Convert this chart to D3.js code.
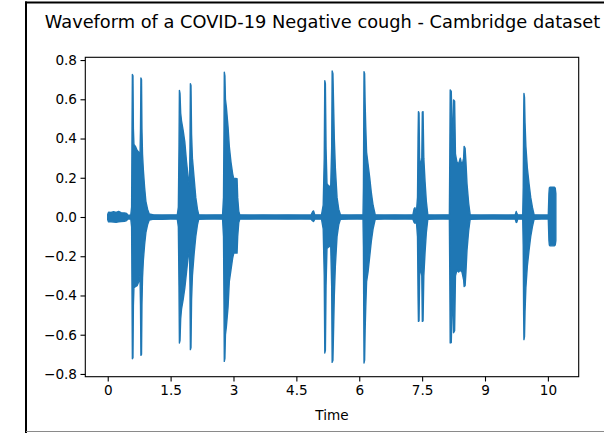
<!DOCTYPE html>
<html>
<head>
<meta charset="utf-8">
<script src="https://cdn.jsdelivr.net/npm/d3@7"></script>
<style>
  html, body { margin: 0; padding: 0; background: #fff; }
  svg { display: block; }
  text { font-family: "DejaVu Sans", sans-serif; fill: #000; }
</style>
</head>
<body>
<svg id="chart" width="604" height="433"></svg>
<script>
// Waveform envelope: rows of [time (s), upper amplitude, lower amplitude]
const lead = [
  [0.00, 0.014, -0.014], [0.02, 0.024, -0.025], [0.08, 0.023, -0.024],
  [0.14, 0.027, -0.026], [0.20, 0.023, -0.027], [0.26, 0.028, -0.024],
  [0.32, 0.022, -0.023], [0.40, 0.021, -0.022], [0.45, 0.018, -0.018],
  [0.48, 0.009, -0.009], [0.55, 0.010, -0.010]
];
const cough1 = [
  [0.570, 0.05, -0.05], [0.580, 0.45, -0.40], [0.588, 0.726, -0.722],
  [0.602, 0.72, -0.718], [0.612, 0.45, -0.45], [0.625, 0.37, -0.36],
  [0.66, 0.36, -0.355], [0.70, 0.34, -0.35], [0.74, 0.33, -0.33],
  [0.77, 0.31, -0.30], [0.782, 0.45, -0.45], [0.792, 0.709, -0.705],
  [0.806, 0.70, -0.70], [0.816, 0.45, -0.45], [0.83, 0.32, -0.31],
  [0.85, 0.24, -0.22], [0.88, 0.15, -0.14], [0.91, 0.08, -0.08],
  [0.95, 0.04, -0.04], [0.99, 0.015, -0.015]
];
const gap1 = [[1.10, 0.011, -0.011], [1.30, 0.010, -0.012], [1.50, 0.011, -0.010], [1.66, 0.011, -0.011]];
const cough2 = [
  [1.685, 0.05, -0.05], [1.700, 0.35, -0.35], [1.710, 0.645, -0.642],
  [1.724, 0.63, -0.63], [1.740, 0.53, -0.52], [1.760, 0.49, -0.47],
  [1.800, 0.44, -0.42], [1.840, 0.38, -0.36], [1.880, 0.28, -0.28],
  [1.920, 0.20, -0.20], [1.950, 0.16, -0.17], [1.962, 0.35, -0.35],
  [1.972, 0.68, -0.676], [1.986, 0.67, -0.665], [2.000, 0.42, -0.42],
  [2.020, 0.30, -0.30], [2.060, 0.20, -0.19], [2.100, 0.10, -0.10],
  [2.140, 0.04, -0.04], [2.170, 0.012, -0.012]
];
const gap2 = [[2.35, 0.010, -0.011], [2.55, 0.011, -0.010], [2.74, 0.011, -0.011]];
const cough3 = [
  [2.762, 0.10, -0.10], [2.774, 0.45, -0.45], [2.781, 0.738, -0.736],
  [2.795, 0.72, -0.72], [2.808, 0.60, -0.60], [2.830, 0.56, -0.56],
  [2.870, 0.46, -0.46], [2.900, 0.36, -0.33], [2.940, 0.28, -0.27],
  [2.980, 0.22, -0.21], [3.000, 0.20, -0.19], [3.010, 0.198, -0.184],
  [3.085, 0.195, -0.184], [3.100, 0.10, -0.10], [3.125, 0.03, -0.03],
  [3.150, 0.011, -0.011]
];
const gap3 = [
  [3.40, 0.010, -0.011], [3.70, 0.011, -0.010], [4.00, 0.010, -0.010],
  [4.30, 0.011, -0.011], [4.60, 0.010, -0.010], [4.85, 0.010, -0.011],
  [4.89, 0.028, -0.020], [4.91, 0.031, -0.023], [4.94, 0.011, -0.011],
  [5.10, 0.011, -0.011]
];
const cough4 = [
  [5.140, 0.06, -0.06], [5.165, 0.30, -0.30], [5.178, 0.695, -0.693],
  [5.192, 0.68, -0.68], [5.208, 0.35, -0.35], [5.230, 0.17, -0.16],
  [5.280, 0.155, -0.15], [5.320, 0.16, -0.15], [5.342, 0.35, -0.35],
  [5.354, 0.744, -0.741], [5.372, 0.73, -0.73], [5.390, 0.55, -0.55],
  [5.405, 0.40, -0.40], [5.430, 0.25, -0.25], [5.470, 0.10, -0.10],
  [5.510, 0.04, -0.04], [5.550, 0.012, -0.012]
];
const gap4 = [[5.75, 0.010, -0.011], [5.95, 0.011, -0.010], [6.09, 0.011, -0.011]];
const cough5 = [
  [6.100, 0.15, -0.15], [6.108, 0.50, -0.50], [6.114, 0.741, -0.744],
  [6.128, 0.73, -0.73], [6.140, 0.58, -0.58], [6.155, 0.46, -0.46],
  [6.175, 0.33, -0.33], [6.210, 0.27, -0.28], [6.250, 0.20, -0.20],
  [6.290, 0.12, -0.12], [6.330, 0.06, -0.06], [6.380, 0.012, -0.012]
];
const gap5 = [
  [6.60, 0.010, -0.010], [6.85, 0.011, -0.011], [7.10, 0.010, -0.010],
  [7.28, 0.011, -0.011], [7.31, 0.042, -0.028], [7.33, 0.047, -0.032],
  [7.36, 0.012, -0.012]
];
const cough6 = [
  [7.390, 0.10, -0.10], [7.403, 0.40, -0.40], [7.412, 0.537, -0.532],
  [7.426, 0.53, -0.53], [7.440, 0.30, -0.30], [7.470, 0.25, -0.25],
  [7.492, 0.30, -0.30], [7.505, 0.535, -0.532], [7.522, 0.537, -0.53],
  [7.540, 0.30, -0.30], [7.570, 0.18, -0.18], [7.600, 0.08, -0.08],
  [7.635, 0.012, -0.012]
];
const gap6 = [[7.80, 0.010, -0.011], [8.00, 0.011, -0.010], [8.15, 0.011, -0.011]];
const cough7 = [
  [8.160, 0.30, -0.30], [8.170, 0.648, -0.642], [8.195, 0.64, -0.64],
  [8.215, 0.45, -0.45], [8.235, 0.40, -0.40], [8.250, 0.597, -0.59],
  [8.275, 0.59, -0.58], [8.295, 0.32, -0.30], [8.330, 0.28, -0.27],
  [8.370, 0.27, -0.28], [8.410, 0.30, -0.27], [8.450, 0.26, -0.28],
  [8.490, 0.30, -0.32], [8.502, 0.36, -0.354], [8.525, 0.35, -0.35],
  [8.545, 0.28, -0.28], [8.570, 0.17, -0.17], [8.610, 0.07, -0.07],
  [8.645, 0.012, -0.012]
];
const gap7 = [
  [8.90, 0.010, -0.011], [9.20, 0.011, -0.010], [9.50, 0.010, -0.011],
  [9.72, 0.011, -0.011], [9.745, 0.028, -0.028], [9.76, 0.018, -0.026],
  [9.78, 0.011, -0.011], [9.90, 0.011, -0.011]
];
const cough8 = [
  [9.912, 0.15, -0.15], [9.922, 0.50, -0.50], [9.929, 0.63, -0.625],
  [9.942, 0.61, -0.61], [9.955, 0.48, -0.48], [9.975, 0.36, -0.36],
  [10.01, 0.25, -0.25], [10.05, 0.17, -0.17], [10.09, 0.10, -0.10],
  [10.13, 0.05, -0.05], [10.17, 0.012, -0.012]
];
const tail = [
  [10.35, 0.010, -0.010], [10.51, 0.010, -0.010], [10.525, 0.12, -0.12],
  [10.535, 0.148, -0.143], [10.55, 0.152, -0.147], [10.65, 0.152, -0.147],
  [10.675, 0.148, -0.143], [10.69, 0.12, -0.12]
];

const xTickValues = [0, 1.5, 3, 4.5, 6, 7.5, 9, 10.5];
const xTickLabels = ["0", "1.5", "3", "4.5", "6", "7.5", "9", "10"];
const yTickValues = [-0.8, -0.6, -0.4, -0.2, 0.0, 0.2, 0.4, 0.6, 0.8];

const titleText = "Waveform of a COVID-19 Negative cough - Cambridge dataset";
const xLabelText = "Time";

const envelope = [].concat(lead, cough1, gap1, cough2, gap2, cough3, gap3,
  cough4, gap4, cough5, gap5, cough6, gap6, cough7, gap7, cough8, tail);

const svg = d3.select("#chart");
const plot = { left: 85.3, right: 578.7, top: 57.3, bottom: 376.7 };

const tMax = 10.7;
const x = d3.scaleLinear()
  .domain([-0.05 * tMax, 1.05 * tMax])
  .range([plot.left, plot.right]);
const y = d3.scaleLinear()
  .domain([-0.814, 0.814])
  .range([plot.bottom, plot.top]);

// Outer frame of the figure
svg.append("line").attr("x1", 26).attr("x2", 26).attr("y1", 1.5).attr("y2", 433)
  .attr("stroke", "#000").attr("stroke-width", 2);
svg.append("line").attr("x1", 25).attr("x2", 604).attr("y1", 2.5).attr("y2", 2.5)
  .attr("stroke", "#000").attr("stroke-width", 2);
svg.append("line").attr("x1", 26).attr("x2", 604).attr("y1", 431.5).attr("y2", 431.5)
  .attr("stroke", "#8a8a8a").attr("stroke-width", 1.2);

// Waveform envelope
const area = d3.area()
  .x(d => x(d[0]))
  .y0(d => y(d[2]))
  .y1(d => y(d[1]));
svg.append("path")
  .datum(envelope)
  .attr("d", area)
  .attr("fill", "#1f77b4")
  .attr("stroke", "#1f77b4")
  .attr("stroke-width", 1.4)
  .attr("stroke-linejoin", "round");

// Axes
const fmtY = v => d3.format(".1f")(v).replace("-", "\u2212");
const xAxis = d3.axisBottom(x)
  .tickValues(xTickValues)
  .tickFormat((d, i) => xTickLabels[i])
  .tickSize(4.8).tickPadding(3.5);
const yAxis = d3.axisLeft(y)
  .tickValues(yTickValues)
  .tickFormat(fmtY)
  .tickSize(4.8).tickPadding(3.5);

const gx = svg.append("g").attr("transform", `translate(0,${plot.bottom})`).call(xAxis);
const gy = svg.append("g").attr("transform", `translate(${plot.left},0)`).call(yAxis);
[gx, gy].forEach(g => {
  g.select(".domain").remove();
  g.selectAll(".tick line").attr("stroke", "#000").attr("stroke-width", 1.1);
  g.selectAll(".tick text").attr("font-size", 13.6).attr("fill", "#222")
    .style("font-family", "DejaVu Sans, sans-serif");
});

// Axes frame (spines)
svg.append("rect")
  .attr("x", plot.left).attr("y", plot.top)
  .attr("width", plot.right - plot.left).attr("height", plot.bottom - plot.top)
  .attr("fill", "none").attr("stroke", "#000").attr("stroke-width", 1.1);

// Title and axis label
svg.append("text")
  .attr("x", 322.5).attr("y", 28)
  .attr("text-anchor", "middle").attr("font-size", 17.8).attr("fill", "#222")
  .text(titleText);
svg.append("text")
  .attr("x", (plot.left + plot.right) / 2).attr("y", 420)
  .attr("text-anchor", "middle").attr("font-size", 13.6).attr("fill", "#222")
  .text(xLabelText);
</script>
</body>
</html>
